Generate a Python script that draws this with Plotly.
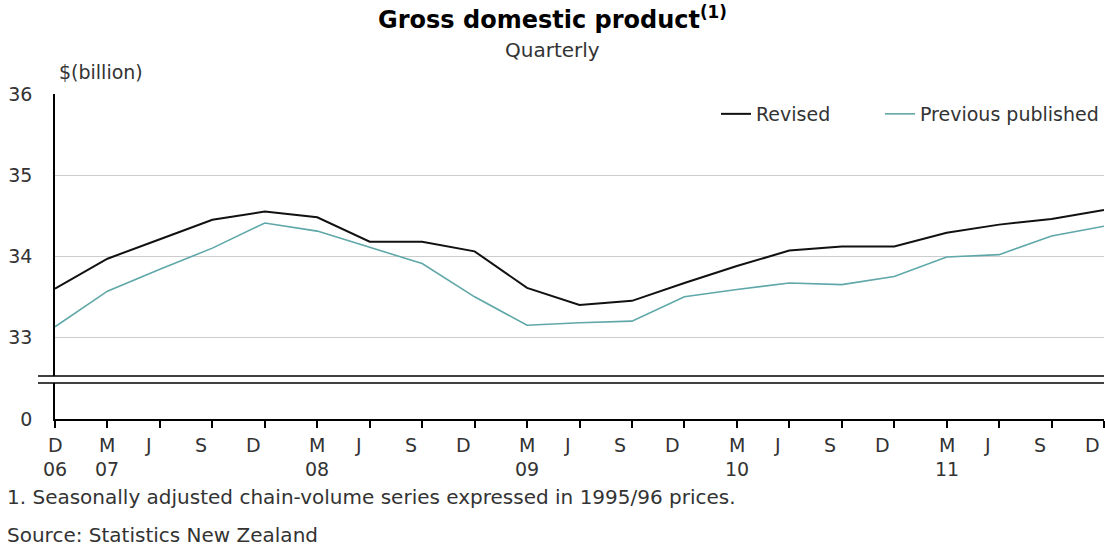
import plotly.graph_objects as go

# ---- data ----
months = ["D", "M", "J", "S", "D", "M", "J", "S", "D", "M", "J", "S",
          "D", "M", "J", "S", "D", "M", "J", "S", "D"]
years = ["06", "07", "", "", "", "08", "", "", "", "09", "", "", "",
         "10", "", "", "", "11", "", "", ""]
revised = [33.60, 33.97, 34.21, 34.45, 34.55, 34.48, 34.18, 34.18, 34.06, 33.61,
           33.40, 33.45, 33.67, 33.88, 34.07, 34.12, 34.12, 34.29, 34.39, 34.46, 34.57]
previous = [33.13, 33.57, 33.84, 34.10, 34.41, 34.31, 34.11, 33.91, 33.50, 33.15,
            33.18, 33.20, 33.50, 33.59, 33.67, 33.65, 33.75, 33.99, 34.02, 34.25, 34.37]
y_ticks_top = [33, 34, 35, 36]
y_ticks_bottom = [0]

FONT = "DejaVu Sans, Verdana, sans-serif"
TXT = "#333333"
TEAL = "#5fa7a8"
FS = 19

W, H = 1105, 546
L, R, T, B = 55, 1, 94, 127
plot_w = W - L - R
plot_h = H - T - B

def py(px):  # pixel y -> paper y
    return (H - B - px) / plot_h

def pxx(px):  # pixel x -> paper x
    return (px - L) / plot_w

idx = list(range(len(months)))

fig = go.Figure()
fig.add_trace(go.Scatter(x=idx, y=revised, mode="lines", name="Revised",
                         line=dict(color="#111111", width=2), legend="legend"))
fig.add_trace(go.Scatter(x=idx, y=previous, mode="lines", name="Previous published",
                         line=dict(color=TEAL, width=1.6), legend="legend2"))
fig.add_trace(go.Scatter(x=[], y=[], yaxis="y2", showlegend=False, hoverinfo="skip"))

top_lo = py(376)
bot_hi = py(383)

legend_common = dict(orientation="h", xanchor="right", y=py(114),
                     yanchor="middle", bgcolor="rgba(0,0,0,0)",
                     font=dict(size=FS, color=TXT), itemwidth=30)

fig.update_layout(
    width=W, height=H,
    margin=dict(l=L, r=R, t=T, b=B),
    paper_bgcolor="white", plot_bgcolor="white",
    font=dict(family=FONT, size=FS, color=TXT),
    title=dict(text="<b>Gross domestic product<sup>(1)</sup></b>",
               x=0.5, xref="container", xanchor="center",
               y=1 - 20 / H, yref="container", yanchor="middle",
               font=dict(family=FONT, size=24, color="#000000")),
    xaxis=dict(range=[0, len(months) - 1], anchor="y2", tickvals=idx,
               showticklabels=False, ticks="outside", ticklen=7, tickwidth=1.5,
               tickcolor="#000000", showline=True, linecolor="#000000",
               linewidth=1.5, showgrid=False, zeroline=False, fixedrange=True),
    yaxis=dict(domain=[top_lo, 1], range=[33 - (376 - 337.3) / 81.3, 36],
               tickvals=y_ticks_top, ticks="outside", ticklen=17,
               tickcolor="rgba(0,0,0,0)", showline=True, linecolor="#000000",
               linewidth=1.5, showgrid=True, gridcolor="#cccccc", gridwidth=1.2,
               zeroline=False, anchor="x", tickfont=dict(size=FS, color=TXT)),
    yaxis2=dict(domain=[0, bot_hi], range=[0, 1], tickvals=y_ticks_bottom,
                ticks="outside", ticklen=17, tickcolor="rgba(0,0,0,0)",
                showline=True, linecolor="#000000", linewidth=1.5,
                showgrid=False, zeroline=False, anchor="x",
                tickfont=dict(size=FS, color=TXT)),
    legend=dict(x=pxx(836), **legend_common),
    legend2=dict(x=1, **legend_common),
    showlegend=True,
)

# axis break lines
for yb in (top_lo, bot_hi):
    fig.add_shape(type="line", xref="paper", yref="paper",
                  x0=pxx(38), x1=1, y0=yb, y1=yb,
                  line=dict(color="#000000", width=1.5))

ann = []
# x tick labels
for i, (m, yr) in enumerate(zip(months, years)):
    off = 0 if (m == "M" or i == 0) else -0.22
    ann.append(dict(x=i + off, xref="x", y=py(445), yref="paper", text=m,
                    showarrow=False, xanchor="center", yanchor="middle",
                    font=dict(size=FS, color=TXT)))
    if yr:
        ann.append(dict(x=i, xref="x", y=py(469), yref="paper", text=yr,
                        showarrow=False, xanchor="center", yanchor="middle",
                        font=dict(size=FS, color=TXT)))

ann.append(dict(x=pxx(552.5), xref="paper", y=py(50), yref="paper",
                text="Quarterly", showarrow=False, xanchor="center",
                yanchor="middle", font=dict(size=20, color=TXT)))
ann.append(dict(x=pxx(57), xref="paper", y=py(72), yref="paper",
                text="$(billion)", showarrow=False, xanchor="left",
                yanchor="middle", font=dict(size=FS, color=TXT)))
ann.append(dict(x=pxx(5), xref="paper", y=py(497), yref="paper",
                text="1. Seasonally adjusted chain-volume series expressed in 1995/96 prices.",
                showarrow=False, xanchor="left", yanchor="middle",
                font=dict(size=20, color=TXT)))
ann.append(dict(x=pxx(5), xref="paper", y=py(535), yref="paper",
                text="Source: Statistics New Zealand", showarrow=False,
                xanchor="left", yanchor="middle", font=dict(size=20, color=TXT)))
fig.update_layout(annotations=ann)

fig.write_html("out.html")
